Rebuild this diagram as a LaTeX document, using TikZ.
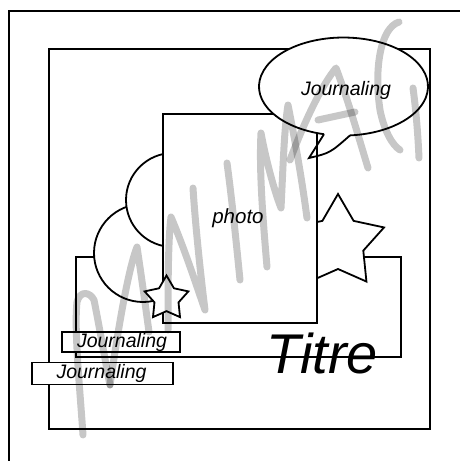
\documentclass[tikz,border=0pt]{standalone}
\usepackage{fontspec}
\setmainfont{Liberation Sans}
\usetikzlibrary{shapes.geometric}
\begin{document}
\begin{tikzpicture}[x=1pt,y=-1pt,
  line/.style={draw=black,line width=1.8pt},
  panel/.style={line,fill=white,inner sep=0pt},
  lbl/.style={font=\fontsize{19.5}{20}\selectfont\itshape,inner sep=0pt},
  starshape/.style={star,star points=5,star point ratio=1.82,inner sep=0pt,draw=black,fill=white,line width=1.8pt},
  wm/.style={draw=black,draw opacity=0.22,line width=7pt,line cap=round,line join=round}]
\useasboundingbox (0,0) rectangle (459,461);
\fill[white] (0,0) rectangle (459,461);
% frames
\coordinate (fa) at (9,470);
\coordinate (fb) at (9,11);
\coordinate (fc) at (470,11);
\draw[line] (fa) -- (fb) -- (fc);
\node[line,minimum width=381pt,minimum height=380pt,inner sep=0pt] (square) at (239.5,239) {};
% band
\node[panel,minimum width=325pt,minimum height=100pt] (band) at (238.5,307) {};
% circles
\node[panel,circle,minimum size=98pt] (lowcirc) at (143,253) {};
\node[panel,circle,minimum size=94pt] (upcirc) at (173,200) {};
% big star
\node[starshape,minimum size=96.8pt] (bigstar) at (338,242.4) {};
% photo
\node[panel,minimum width=154pt,minimum height=209pt] (photo) at (240,218.5) {};
\node[lbl,font=\fontsize{20.5}{21}\selectfont\itshape] (phototext) at (238,218.5) {photo};
% small star
\node[starshape,minimum size=46pt] (smallstar) at (166.5,298.5) {};
% speech bubble
\coordinate (bc) at (343.5,86.5);
\coordinate (tl) at (324,134.2);
\coordinate (tip) at (309,158);
\coordinate (tr) at (350,135.4);
\fill[white] (bc) ellipse [x radius=84.5, y radius=49];
\draw[line] (tl) arc[start angle=103.34,end angle=445.6,x radius=84.5,y radius=49];
\draw[line,line join=miter] (tl) -- (tip) .. controls (330,153) .. (tr);
\node[lbl] (bubbletext) at (346,90) {Journaling};
% journaling boxes
\node[panel,minimum width=118pt,minimum height=20pt] (box1) at (121,342) {};
\node[lbl] (j1) at (122,342) {Journaling};
\node[panel,minimum width=141pt,minimum height=22pt] (box2) at (102.5,373.5) {};
\node[lbl] (j2) at (101.5,373.5) {Journaling};
% title
\node[font=\fontsize{56}{60}\selectfont\itshape,inner sep=0pt,anchor=base] (titre) at (322,373) {Titre};
% watermark strokes
\draw[wm] (83,435) .. controls (80,390) and (74,330) .. (77,302)
          .. controls (80,290) and (90,292) .. (94,300)
          .. controls (100,330) and (105,360) .. (110,385);
\draw[wm] (110,385) .. controls (118,330) and (128,270) .. (137,247)
          .. controls (142,280) and (146,310) .. (149,332);
\draw[wm] (168,330) .. controls (168,290) and (168,240) .. (171,217)
          .. controls (185,250) and (198,290) .. (205,310)
          .. controls (200,270) and (195,220) .. (193,188);
\draw[wm] (227,163) .. controls (232,200) and (236,240) .. (240,280);
\draw[wm] (267,267) .. controls (263,220) and (259,170) .. (261,133)
          .. controls (266,160) and (274,190) .. (281,208)
          .. controls (283,170) and (284,130) .. (288,105)
          .. controls (295,140) and (302,180) .. (307,218);
\draw[wm] (290,160) .. controls (305,120) and (322,85) .. (336,68)
          .. controls (348,100) and (358,135) .. (368,168);
\draw[wm] (318,120) -- (355,112);
\draw[wm] (399,22) .. controls (380,28) and (374,70) .. (380,110)
          .. controls (384,130) and (392,145) .. (400,150);
\draw[wm] (413,88) .. controls (416,110) and (418,135) .. (419,158);
\end{tikzpicture}
\end{document}
